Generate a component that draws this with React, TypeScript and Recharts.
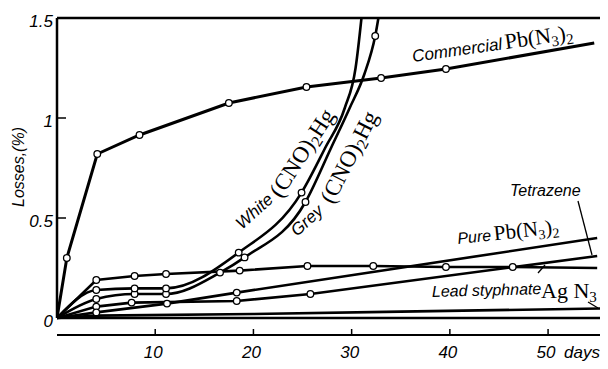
import React from "react";
import { ComposedChart, Line, XAxis, YAxis, ReferenceLine } from "recharts";

// ---- axis ticks ----
const DAY_TICKS = [10, 20, 30, 40, 50];
const LOSS_TICKS = [0, 0.5, 1, 1.5];

// ---- Commercial Pb(N3)2 ----
const commercialDays = [1.0, 4.1, 8.4, 17.5, 25.4, 33.0, 39.6];
const commercialLoss = [0.3, 0.82, 0.915, 1.075, 1.155, 1.2, 1.245];
const commercialPathDays = [0, 54.7];
const commercialPathLoss = [0, 1.375];

// ---- White (CNO)2Hg ----
const whiteDays = [4, 7.9, 11.1, 18.5, 24.9];
const whiteLoss = [0.14, 0.148, 0.148, 0.327, 0.627];
const whitePathDays = [0, 27.3, 29.3, 30.4, 31.0, 31.4];
const whitePathLoss = [0, 0.85, 1.05, 1.25, 1.5, 1.7];

// ---- Grey (CNO)2Hg ----
const greyDays = [4, 7.9, 11.1, 16.6, 19.1, 25.3, 32.4];
const greyLoss = [0.095, 0.12, 0.12, 0.227, 0.303, 0.58, 1.41];
const greyPathDays = [0, 27.9, 29.8, 31.3, 33.2];
const greyPathLoss = [0, 0.85, 1.05, 1.22, 1.65];

// ---- Lead styphnate ----
const styphnateDays = [4, 7.9, 11.1, 18.6, 25.5, 32.2, 39.6, 46.4];
const styphnateLoss = [0.19, 0.21, 0.22, 0.237, 0.26, 0.26, 0.255, 0.255];
const styphnatePathDays = [0, 55];
const styphnatePathLoss = [0, 0.25];

// ---- Pure Pb(N3)2 ----
const pureDays = [4, 11.2, 18.3];
const pureLoss = [0.028, 0.072, 0.127];
const purePathDays = [0, 55];
const purePathLoss = [0, 0.4];

// ---- Tetrazene ----
const tetrazeneDays = [4, 7.6, 18.3, 25.8];
const tetrazeneLoss = [0.057, 0.077, 0.085, 0.12];
const tetrazenePathDays = [0, 55];
const tetrazenePathLoss = [0, 0.31];

// ---- AgN3 ----
const agDays: number[] = [];
const agLoss: number[] = [];
const agPathDays = [0, 4, 20, 35, 56];
const agPathLoss = [0, 0.012, 0.02, 0.032, 0.048];

type Pt = { day: number; loss: number; marked: boolean };
function build(md: number[], ml: number[], pd: number[], pl: number[]): Pt[] {
  const a: Pt[] = md.map((d, i) => ({ day: d, loss: ml[i], marked: true }));
  const b: Pt[] = pd.map((d, i) => ({ day: d, loss: pl[i], marked: false }));
  return [...a, ...b].sort((p, q) => p.day - q.day);
}

const commercial = build(commercialDays, commercialLoss, commercialPathDays, commercialPathLoss);
const white = build(whiteDays, whiteLoss, whitePathDays, whitePathLoss);
const grey = build(greyDays, greyLoss, greyPathDays, greyPathLoss);
const styphnate = build(styphnateDays, styphnateLoss, styphnatePathDays, styphnatePathLoss);
const pure = build(pureDays, pureLoss, purePathDays, purePathLoss);
const tetrazene = build(tetrazeneDays, tetrazeneLoss, tetrazenePathDays, tetrazenePathLoss);
const ag = build(agDays, agLoss, agPathDays, agPathLoss);

const SANS = '"Liberation Sans", Arial, sans-serif';
const SERIF = '"Liberation Serif", "Times New Roman", serif';

const makeDot = (name: string) => (p: any) => {
  const k = `${name}-${p.index}`;
  if (!p.payload || !p.payload.marked) return <g key={k} />;
  return <circle key={k} cx={p.cx} cy={p.cy} r={3.3} fill="#fff" stroke="#000" strokeWidth={1.3} />;
};

const YTick = (p: any) => {
  const { x, y, payload } = p;
  return (
    <g>
      <line x1={x} y1={y} x2={x + 9} y2={y} stroke="#000" strokeWidth={1.5} />
      <text x={x - 4} y={y + 9} textAnchor="end" fontFamily={SANS} fontStyle="italic" fontSize={17} fill="#000">
        {String(payload.value)}
      </text>
    </g>
  );
};

const XTick = (p: any) => {
  const { x, y, payload } = p;
  const v = payload.value;
  return (
    <g>
      <line x1={x} y1={y} x2={x} y2={y - 6} stroke="#000" strokeWidth={1.5} />
      <text x={x - 2} y={y + 23} textAnchor="middle" fontFamily={SANS} fontStyle="italic" fontSize={17} fill="#000">
        {String(v)}
      </text>
      {v === 50 ? (
        <text x={x + 16} y={y + 23} textAnchor="start" fontFamily={SANS} fontStyle="italic" fontSize={17} fill="#000">
          days
        </text>
      ) : null}
    </g>
  );
};

const W = 600;
const H = 361;

export default function App() {
  const lw = 2.6;
  return (
    <div style={{ position: "relative", width: W, height: H }}>
      <ComposedChart width={W} height={H} margin={{ top: 10, right: 1, bottom: 0, left: 0 }}>
        <XAxis
          type="number"
          dataKey="day"
          domain={[0, 56]}
          ticks={DAY_TICKS}
          allowDataOverflow
          height={34}
          tickSize={0}
          tickMargin={0}
          tickLine={false}
          axisLine={{ stroke: "#000", strokeWidth: 2 }}
          tick={(p: any) => <XTick {...p} />}
        />
        <YAxis
          type="number"
          dataKey="loss"
          domain={[-0.085, 1.5]}
          ticks={LOSS_TICKS}
          allowDataOverflow
          width={49}
          tickSize={0}
          tickMargin={0}
          tickLine={false}
          axisLine={false}
          tick={(p: any) => <YTick {...p} />}
        />
        <ReferenceLine y={1.5} stroke="#000" strokeWidth={2.5} />
        <ReferenceLine segment={[{ x: 0, y: 0 }, { x: 0, y: 1.5 }]} stroke="#000" strokeWidth={2.5} />
        <ReferenceLine segment={[{ x: 0, y: 0 }, { x: 56, y: 0 }]} stroke="#000" strokeWidth={2.5} />
        <Line data={ag} dataKey="loss" type="linear" stroke="#000" strokeWidth={lw} dot={false} isAnimationActive={false} />
        <Line data={tetrazene} dataKey="loss" type="linear" stroke="#000" strokeWidth={lw} dot={makeDot("tet")} isAnimationActive={false} />
        <Line data={pure} dataKey="loss" type="linear" stroke="#000" strokeWidth={lw} dot={makeDot("pure")} isAnimationActive={false} />
        <Line data={styphnate} dataKey="loss" type="linear" stroke="#000" strokeWidth={lw} dot={makeDot("sty")} isAnimationActive={false} />
        <Line data={grey} dataKey="loss" type="monotone" stroke="#000" strokeWidth={lw} dot={makeDot("grey")} isAnimationActive={false} />
        <Line data={white} dataKey="loss" type="monotone" stroke="#000" strokeWidth={lw} dot={makeDot("white")} isAnimationActive={false} />
        <Line data={commercial} dataKey="loss" type="linear" stroke="#000" strokeWidth={3} dot={makeDot("com")} isAnimationActive={false} />
      </ComposedChart>
      <svg width={W} height={H} style={{ position: "absolute", left: 0, top: 0, pointerEvents: "none" }}>
        <g fill="#000">
          <text x={16} y={159} transform="rotate(-90 16 159)" textAnchor="middle" fontFamily={SANS} fontStyle="italic" fontSize={16}>
            Losses,(%)
          </text>

          <text x={405} y={54} transform="rotate(-8 405 54)" fontSize={22} fontFamily={SERIF}>
            <tspan fontFamily={SANS} fontStyle="italic" fontSize={17}>Commercial</tspan>
            <tspan dx={3}>Pb(N</tspan>
            <tspan fontSize={15} dy={4}>3</tspan>
            <tspan dy={-4}>)</tspan>
            <tspan fontSize={15} dy={4}>2</tspan>
          </text>

          <text x={234} y={222} transform="rotate(-42 234 222)" fontFamily={SANS} fontStyle="italic" fontSize={17}>
            White
          </text>
          <text x={273} y={191} transform="rotate(-57 273 191)" fontFamily={SERIF} fontSize={23}>
            <tspan>(CNO)</tspan>
            <tspan fontSize={16} dy={4}>2</tspan>
            <tspan dy={-4}>Hg</tspan>
          </text>

          <text x={289} y={229} transform="rotate(-42 289 229)" fontFamily={SANS} fontStyle="italic" fontSize={17}>
            Grey
          </text>
          <text x={325} y={197} transform="rotate(-63 325 197)" fontFamily={SERIF} fontSize={23}>
            <tspan>(CNO)</tspan>
            <tspan fontSize={16} dy={4}>2</tspan>
            <tspan dy={-4}>Hg</tspan>
          </text>

          <text x={502} y={188} fontFamily={SANS} fontStyle="italic" fontSize={16}>
            Tetrazene
          </text>
          <line x1={570} y1={193} x2={584} y2={247} stroke="#000" strokeWidth={1.3} />

          <text x={450} y={236} transform="rotate(-6 450 236)" fontSize={21} fontFamily={SERIF}>
            <tspan fontFamily={SANS} fontStyle="italic" fontSize={16}>Pure</tspan>
            <tspan dx={3}>Pb(N</tspan>
            <tspan fontSize={14} dy={4}>3</tspan>
            <tspan dy={-4}>)</tspan>
            <tspan fontSize={14} dy={4}>2</tspan>
          </text>

          <text x={424} y={289} transform="rotate(-1.5 424 289)" fontFamily={SANS} fontStyle="italic" fontSize={16}>
            Lead styphnate
          </text>
          <line x1={530} y1={265} x2={537} y2={257} stroke="#000" strokeWidth={1.3} />

          <text x={533} y={290} fontFamily={SERIF} fontSize={22}>
            <tspan>Ag N</tspan>
            <tspan fontSize={15} dy={4}>3</tspan>
          </text>
          <line x1={580} y1={294} x2={590} y2={300} stroke="#000" strokeWidth={1.3} />
        </g>
      </svg>
    </div>
  );
}
